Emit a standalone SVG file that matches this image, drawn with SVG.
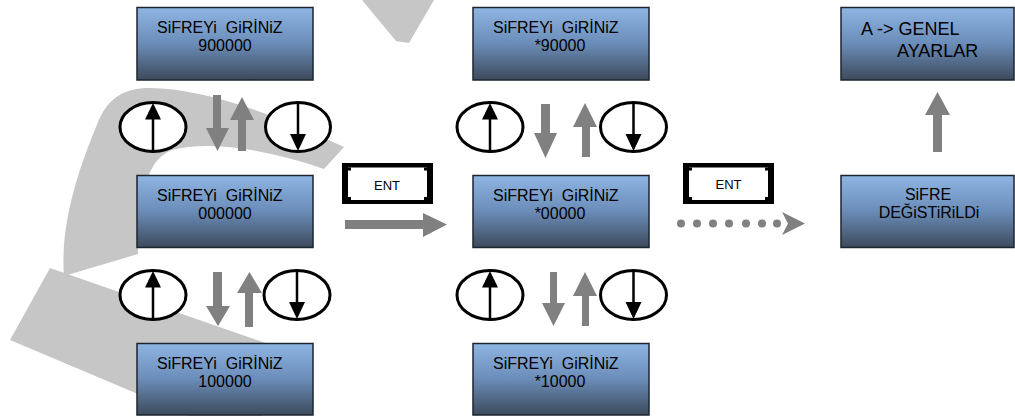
<svg xmlns="http://www.w3.org/2000/svg" width="1015" height="416" viewBox="0 0 1015 416">
  <defs>
    <linearGradient id="lcd" x1="0" y1="0" x2="0" y2="1">
      <stop offset="0" stop-color="#8fb5e4"/>
      <stop offset="0.5" stop-color="#6a8cb8"/>
      <stop offset="1" stop-color="#3d4a5c"/>
    </linearGradient>
  </defs>
  <style>
    .lcd { fill: url(#lcd); stroke: #1c2430; stroke-width: 1.5; }
    .t { font-family: "Liberation Sans", Arial, sans-serif; font-size: 16px; fill: #000; white-space: pre; }
    .tl { font-family: "Liberation Sans", Arial, sans-serif; font-size: 18px; fill: #000; white-space: pre; }
    .ent { font-family: "Liberation Sans", Arial, sans-serif; font-size: 13px; fill: #000; text-anchor: middle; }
    .key { fill: #fff; stroke: #000; stroke-width: 3; }
    .keyline { stroke: #000; stroke-width: 2.5; }
    .head { fill: #000; }
    .wm { fill: #c6c6c6; }
    .ga { fill: #808080; }
  </style>

  <rect width="1015" height="416" fill="#fff"/>

  <!-- background watermark strokes -->
  <g id="watermark">
    <path class="wm" d="M10,340 L50,268 L300,355 L262,416 L190,416 Z"/>
    <path class="wm" d="M64,276 C60,225 78,170 98,122 C108,98 124,88 150,88 C200,88 270,112 344,147 L324,169 C270,150 210,140 172,150 C147,160 140,190 138,254 Z"/>
    <path class="wm" d="M362,0 L434,0 L409,43 L396,41 Z"/>
  </g>

  <!-- connectors -->
  <g id="connectors">
    <!-- column 1, upper pair -->
    <path class="ga" d="M213,95 H221 V128 H229 L217.5,151 L206,128 H213 Z"/>
    <path class="ga" d="M238,151 H246 V120 H254 L242,97 L230,120 H238 Z"/>
    <!-- column 1, lower pair -->
    <path class="ga" d="M213,272 H222 V306 H230 L218,326 L206,306 H213 Z"/>
    <path class="ga" d="M245,327 H253 V293 H262 L249.5,272 L237,293 H245 Z"/>
    <!-- column 2, upper pair -->
    <path class="ga" d="M541,104 H550 V133 H557 L545.5,158 L534,133 H541 Z"/>
    <path class="ga" d="M582,157 H590 V127 H597 L585,103 L573,127 H582 Z"/>
    <!-- column 2, lower pair -->
    <path class="ga" d="M550,272 H557 V303 H565 L553.5,326 L542,303 H550 Z"/>
    <path class="ga" d="M582,326 H589 V296 H597 L585,272 L573,296 H582 Z"/>
    <!-- ENT step 1 -->
    <path class="ga" d="M345,220 H423 V213 L447,224.5 L423,237 V229 H345 Z"/>
    <!-- ENT step 2, dotted -->
    <g class="ga">
      <circle cx="681" cy="223.5" r="4"/>
      <circle cx="697" cy="223.5" r="4"/>
      <circle cx="713" cy="223.5" r="4"/>
      <circle cx="729" cy="223.5" r="4"/>
      <circle cx="746" cy="223.5" r="4"/>
      <circle cx="762" cy="223.5" r="4"/>
      <circle cx="777" cy="223.5" r="4"/>
      <path d="M782,212 L805,223.5 L782,235 L788,223.5 Z"/>
    </g>
    <!-- to general settings -->
    <path class="ga" d="M933,152 H942 V115 H950 L937.5,92 L925,115 H933 Z"/>
  </g>

  <!-- key symbols -->
  <g id="key-up-1">
    <ellipse class="key" cx="153" cy="127" rx="33" ry="24.5"/>
    <line class="keyline" x1="153" y1="151" x2="153" y2="117"/>
    <path class="head" d="M153,103 L161,119.5 L145,119.5 Z"/>
  </g>
  <g id="key-down-1">
    <ellipse class="key" cx="298" cy="127" rx="32.5" ry="24.5"/>
    <line class="keyline" x1="298" y1="103" x2="298" y2="136"/>
    <path class="head" d="M298,151 L306,134 L290,134 Z"/>
  </g>
  <g id="key-up-2">
    <ellipse class="key" cx="153" cy="295" rx="33" ry="24.5"/>
    <line class="keyline" x1="153" y1="319" x2="153" y2="285"/>
    <path class="head" d="M153,271 L161,287.5 L145,287.5 Z"/>
  </g>
  <g id="key-down-2">
    <ellipse class="key" cx="297" cy="295" rx="33" ry="24.5"/>
    <line class="keyline" x1="297" y1="271" x2="297" y2="304"/>
    <path class="head" d="M297,319 L305,302 L289,302 Z"/>
  </g>
  <g id="key-up-3">
    <ellipse class="key" cx="490" cy="127" rx="33" ry="24.5"/>
    <line class="keyline" x1="490" y1="151" x2="490" y2="117"/>
    <path class="head" d="M490,103 L498,119.5 L482,119.5 Z"/>
  </g>
  <g id="key-down-3">
    <ellipse class="key" cx="633.5" cy="127" rx="33" ry="24.5"/>
    <line class="keyline" x1="633.5" y1="103" x2="633.5" y2="136"/>
    <path class="head" d="M633.5,151 L641.5,134 L625.5,134 Z"/>
  </g>
  <g id="key-up-4">
    <ellipse class="key" cx="490" cy="295" rx="33" ry="24.5"/>
    <line class="keyline" x1="490" y1="319" x2="490" y2="285"/>
    <path class="head" d="M490,271 L498,287.5 L482,287.5 Z"/>
  </g>
  <g id="key-down-4">
    <ellipse class="key" cx="633.5" cy="295" rx="33" ry="24.5"/>
    <line class="keyline" x1="633.5" y1="271" x2="633.5" y2="304"/>
    <path class="head" d="M633.5,319 L641.5,302 L625.5,302 Z"/>
  </g>

  <!-- ENT buttons -->
  <g id="ent-1">
    <rect x="342" y="163" width="91" height="41" fill="#000"/>
    <rect x="348" y="167.5" width="79" height="32.5" fill="#fff"/>
    <rect x="348" y="167.5" width="3" height="3" fill="#000"/>
    <rect x="424" y="167.5" width="3" height="3" fill="#000"/>
    <rect x="348" y="197" width="3" height="3" fill="#000"/>
    <rect x="424" y="197" width="3" height="3" fill="#000"/>
    <text class="ent" x="387" y="190">ENT</text>
  </g>
  <g id="ent-2">
    <rect x="683" y="163" width="91" height="41" fill="#000"/>
    <rect x="689" y="167.5" width="79" height="32.5" fill="#fff"/>
    <rect x="689" y="167.5" width="3" height="3" fill="#000"/>
    <rect x="765" y="167.5" width="3" height="3" fill="#000"/>
    <rect x="689" y="197" width="3" height="3" fill="#000"/>
    <rect x="765" y="197" width="3" height="3" fill="#000"/>
    <text class="ent" x="728.5" y="189">ENT</text>
  </g>

  <!-- display screens -->
  <g id="screen-900000">
    <rect class="lcd" x="137" y="7.5" width="176" height="72.5"/>
    <text class="t" x="157" y="33" xml:space="preserve">SiFREYi  GiRİNiZ</text>
    <text class="t" x="225" y="51" text-anchor="middle">900000</text>
  </g>
  <g id="screen-000000">
    <rect class="lcd" x="137" y="175.5" width="176" height="72"/>
    <text class="t" x="157" y="201" xml:space="preserve">SiFREYi  GiRİNiZ</text>
    <text class="t" x="225" y="219" text-anchor="middle">000000</text>
  </g>
  <g id="screen-100000">
    <rect class="lcd" x="137" y="343.5" width="176" height="71.5"/>
    <text class="t" x="157" y="369" xml:space="preserve">SiFREYi  GiRİNiZ</text>
    <text class="t" x="225" y="387" text-anchor="middle">100000</text>
  </g>
  <g id="screen-x90000">
    <rect class="lcd" x="473" y="7.5" width="176" height="72.5"/>
    <text class="t" x="493" y="33" xml:space="preserve">SiFREYi  GiRİNiZ</text>
    <text class="t" x="560" y="51" text-anchor="middle">*90000</text>
  </g>
  <g id="screen-x00000">
    <rect class="lcd" x="473" y="175.5" width="176" height="72"/>
    <text class="t" x="493" y="201" xml:space="preserve">SiFREYi  GiRİNiZ</text>
    <text class="t" x="560" y="219" text-anchor="middle">*00000</text>
  </g>
  <g id="screen-x10000">
    <rect class="lcd" x="473" y="343.5" width="176" height="71.5"/>
    <text class="t" x="493" y="369" xml:space="preserve">SiFREYi  GiRİNiZ</text>
    <text class="t" x="560" y="387" text-anchor="middle">*10000</text>
  </g>
  <g id="screen-changed">
    <rect class="lcd" x="841" y="175.5" width="173" height="72"/>
    <text class="t" x="928" y="200" text-anchor="middle">SiFRE</text>
    <text class="t" x="929" y="218" text-anchor="middle">DEĞiSTiRiLDi</text>
  </g>
  <g id="screen-settings">
    <rect class="lcd" x="841" y="7.5" width="173" height="72.5"/>
    <text class="tl" x="861" y="35">A -&gt; GENEL</text>
    <text class="tl" x="897" y="57">AYARLAR</text>
  </g>
</svg>
